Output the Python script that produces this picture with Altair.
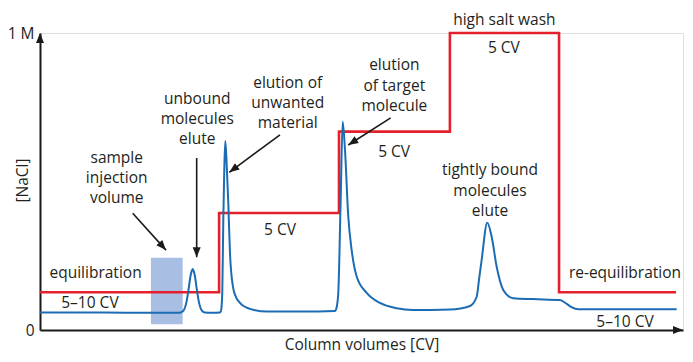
import math
import altair as alt
import pandas as pd

# ---------------- data (x in column volumes, y in M NaCl) ----------------
# salt step gradient: start of each step (CV) and its NaCl level (M)
salt_cv = [0.0, 7.96, 13.29, 18.22, 23.07, 28.27]
salt_m = [0.127, 0.394, 0.668, 1.0, 0.127, 0.127]

# UV absorbance trace
uv_cv = [0.0, 2.667, 4.889, 6.133, 6.253, 6.387, 6.52, 6.609, 6.698, 6.787,
         6.876, 6.964, 7.053, 7.187, 7.32, 7.644, 8.0, 8.044, 8.102, 8.147,
         8.191, 8.236, 8.289, 8.369, 8.444, 8.578, 8.711, 8.889, 9.333, 10.089,
         11.556, 13.111, 13.178, 13.258, 13.364, 13.453, 13.556, 13.702, 13.853,
         14.076, 14.52, 15.111, 15.853, 16.578, 18.222, 19.111, 19.409, 19.511,
         19.631, 19.88, 20.076, 20.298, 20.591, 21.036, 21.924, 23.111, 23.409,
         23.644, 23.924, 28.298]
uv_m = [0.059, 0.059, 0.058, 0.058, 0.059, 0.066, 0.098, 0.140, 0.185, 0.205,
        0.185, 0.140, 0.098, 0.066, 0.059, 0.058, 0.059, 0.064, 0.125, 0.370,
        0.539, 0.636, 0.572, 0.428, 0.259, 0.145, 0.111, 0.091, 0.071, 0.062,
        0.062, 0.064, 0.074, 0.125, 0.438, 0.701, 0.606, 0.382, 0.269,
        0.180, 0.125, 0.091, 0.073, 0.067, 0.069, 0.081, 0.112, 0.168,
        0.236, 0.361, 0.314, 0.213, 0.135, 0.107, 0.104, 0.101, 0.088,
        0.076, 0.070, 0.070]

# sample injection volume band
inj_cv = [4.93, 6.34]
inj_m = [0.019, 0.243]

# annotation texts and anchors
label_text = ["equilibration", "5–10 CV", "sample", "injection", "volume",
              "unbound", "molecules", "elute",
              "elution of", "unwanted", "material", "5 CV",
              "elution", "of target", "molecule", "5 CV",
              "high salt wash", "5 CV",
              "tightly bound", "molecules", "elute",
              "re-equilibration", "5–10 CV"]
label_cv = [2.47, 2.22, 3.41, 3.41, 3.41,
            6.99, 6.99, 6.99,
            11.01, 11.01, 11.01, 10.67,
            15.75, 15.75, 15.75, 15.74,
            20.64, 20.62,
            20.0, 20.0, 20.0,
            26.0, 26.0]
label_m = [0.192, 0.092, 0.579, 0.512, 0.444,
           0.778, 0.710, 0.642,
           0.833, 0.765, 0.696, 0.337,
           0.892, 0.823, 0.755, 0.600,
           1.044, 0.951,
           0.539, 0.469, 0.402,
           0.191, 0.028]

# annotation arrows: start -> tip
arrow_cv = [4.12, 6.964, 10.667, 15.587]
arrow_m = [0.393, 0.579, 0.657, 0.714]
arrow_cv2 = [5.60, 6.964, 8.413, 13.702]
arrow_m2 = [0.269, 0.245, 0.531, 0.623]

# axis extent
X_MAX = 28.58
Y_MAX = 1.0

# ---------------- layout constants ----------------
W, H = 643, 297
PX_CV = W / X_MAX
PX_M = H / Y_MAX
FONT = "Open Sans"
FS = 15.5
TXT = "#231f20"
INK = "#1a1a1a"
RED = "#e3202b"
BLUE = "#1b6cb4"
HEAD = "M0,0L0.4,1L-0.4,1Z"

xs = alt.Scale(domain=[0, X_MAX], nice=False, zero=False)
ys = alt.Scale(domain=[0, Y_MAX], nice=False, zero=False)

salt_df = pd.DataFrame({"cv": salt_cv, "m": salt_m})
uv_df = pd.DataFrame({"cv": uv_cv, "m": uv_m})
inj_df = pd.DataFrame({"cv": [inj_cv[0]], "cv2": [inj_cv[1]],
                       "m": [inj_m[0]], "m2": [inj_m[1]]})
lab_df = pd.DataFrame({"t": label_text, "cv": label_cv, "m": label_m})


def heading(x1, y1, x2, y2):
    dx = (x2 - x1) * PX_CV
    dy = -(y2 - y1) * PX_M
    return math.degrees(math.atan2(dx, -dy)) % 360


arr_df = pd.DataFrame({"cv": arrow_cv, "m": arrow_m,
                       "cv2": arrow_cv2, "m2": arrow_m2})
arr_df["angle"] = [heading(a, b, c, d) for a, b, c, d in
                   zip(arrow_cv, arrow_m, arrow_cv2, arrow_m2)]
axis_head_df = pd.DataFrame({"cv": [0.0, X_MAX], "m": [Y_MAX, 0.0],
                             "angle": [0.0, 90.0]})

x_axis = alt.Axis(title="Column volumes [CV]", labels=False, ticks=False,
                  grid=False, domainColor=INK, domainWidth=2,
                  titleFont=FONT, titleFontSize=FS, titleFontWeight="normal",
                  titleColor=TXT, titleY=14, titleBaseline="middle")
y_axis = alt.Axis(title="[NaCl]", values=[0, 1],
                  labelExpr="datum.value == 1 ? '1 M' : '0'",
                  ticks=False, grid=False, domainColor=INK, domainWidth=2,
                  labelFont=FONT, labelFontSize=FS, labelColor=TXT,
                  labelPadding=6, labelFlush=False,
                  titleFont=FONT, titleFontSize=FS, titleFontWeight="normal",
                  titleColor=TXT, titleAngle=270, titleX=-18, titleY=147,
                  titleBaseline="middle", titleAlign="center")

band = alt.Chart(inj_df).mark_rect(color="#a8bee3").encode(
    x=alt.X("cv:Q", scale=xs, axis=x_axis),
    x2="cv2:Q",
    y=alt.Y("m:Q", scale=ys, axis=y_axis),
    y2="m2:Q",
)

salt = alt.Chart(salt_df).mark_line(color=RED, strokeWidth=2.6,
                                    interpolate="step-after").encode(
    x=alt.X("cv:Q", scale=xs), y=alt.Y("m:Q", scale=ys))

uv = alt.Chart(uv_df).mark_line(color=BLUE, strokeWidth=2,
                                interpolate="monotone").encode(
    x=alt.X("cv:Q", scale=xs), y=alt.Y("m:Q", scale=ys))

texts = alt.Chart(lab_df).mark_text(font=FONT, fontSize=FS, color=TXT,
                                    align="center", baseline="middle").encode(
    x=alt.X("cv:Q", scale=xs), y=alt.Y("m:Q", scale=ys), text="t:N")

rules = alt.Chart(arr_df).mark_rule(color=INK, strokeWidth=1.6).encode(
    x=alt.X("cv:Q", scale=xs), y=alt.Y("m:Q", scale=ys),
    x2="cv2:Q", y2="m2:Q")

heads = alt.Chart(arr_df).mark_point(shape=HEAD, filled=True, size=400,
                                     color=INK, opacity=1,
                                     strokeWidth=0).encode(
    x=alt.X("cv2:Q", scale=xs), y=alt.Y("m2:Q", scale=ys),
    angle=alt.Angle("angle:Q", scale=None))

axis_heads = alt.Chart(axis_head_df).mark_point(shape=HEAD, filled=True,
                                                size=400, color=INK,
                                                opacity=1,
                                                strokeWidth=0).encode(
    x=alt.X("cv:Q", scale=xs), y=alt.Y("m:Q", scale=ys),
    angle=alt.Angle("angle:Q", scale=None))

chart = alt.layer(band, salt, uv, rules, heads, axis_heads, texts).properties(
    width=W, height=H,
    autosize=alt.AutoSizeParams(type="none"),
    padding={"left": 32, "top": 25, "right": 2, "bottom": 24},
).configure_view(stroke=None).configure(background="white")

chart.save("out.html", embed_options={"renderer": "svg", "actions": False})
